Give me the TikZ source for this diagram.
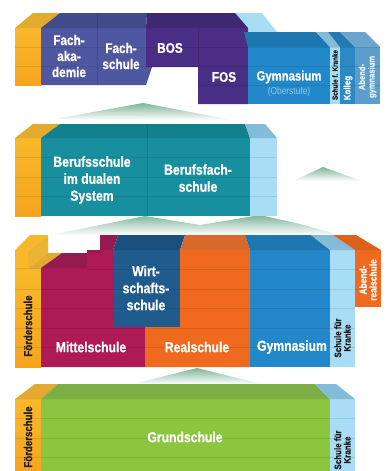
\documentclass[tikz,border=0pt]{standalone}
\usepackage{fontspec}
\newfontfamily\cf[FakeStretch=0.84,BoldFeatures={FakeBold=0.8}]{Liberation Sans}
\definecolor{yfront}{HTML}{F9B82A}
\definecolor{ybot}{HTML}{F6A51E}
\definecolor{ytop}{HTML}{E2AA2E}
\definecolor{yside}{HTML}{EDB22F}
\definecolor{slate}{HTML}{4E579F}
\definecolor{slatetop}{HTML}{414B8C}
\definecolor{purp}{HTML}{4A2D84}
\definecolor{purptop}{HTML}{3F2873}
\definecolor{gblue}{HTML}{2288C9}
\definecolor{gbluetop}{HTML}{1F77B1}
\definecolor{lblue}{HTML}{A9DDF6}
\definecolor{lbluetop}{HTML}{82BCD8}
\definecolor{kol}{HTML}{2A89C6}
\definecolor{koltop}{HTML}{2679B2}
\definecolor{abg}{HTML}{5C9DCC}
\definecolor{abgtop}{HTML}{6BA4CE}
\definecolor{teal}{HTML}{178F9F}
\definecolor{tealtop}{HTML}{13808D}
\definecolor{mag}{HTML}{AD1A56}
\definecolor{magtop}{HTML}{951A4F}
\definecolor{wblue}{HTML}{1F5B8C}
\definecolor{wbluetop}{HTML}{1B4F7E}
\definecolor{oran}{HTML}{EF6A1F}
\definecolor{orantop}{HTML}{D9692B}
\definecolor{grn}{HTML}{8CC63F}
\definecolor{grntop}{HTML}{7DAE46}
\definecolor{mnt}{HTML}{7FB49A}
\definecolor{ober}{HTML}{8DCBEE}
\definecolor{dtext}{HTML}{1E1E1E}
\begin{document}
\begin{tikzpicture}[x=1pt,y=-1pt,
  hl/.style={black,opacity=0.09,line width=0.6pt},
  vl/.style={black,opacity=0.12,line width=0.6pt},
  lbl/.style={text=white,font=\cf\bfseries\fontsize{14.5}{17}\selectfont,align=center,inner sep=0pt},
  lblA/.style={text=white,font=\cf\bfseries\fontsize{14}{16}\selectfont,align=center,inner sep=0pt},
  vlbl/.style={rotate=90,font=\cf\bfseries\fontsize{11.5}{12}\selectfont,align=center,inner sep=0pt},
  mtn/.style={top color=mnt,bottom color=white}
]
\useasboundingbox (0,0) rectangle (388,471);
\fill[white] (0,0) rectangle (388,471);

% ---------- mountains ----------
\shade[mtn] (55,119) -- (143,103) -- (232,120) -- cycle;
\shade[mtn] (293,181) -- (323,167) -- (362,181) -- cycle;
\shade[mtn] (50,235) -- (145,216) -- (200,225) -- (260,215) -- (300,224) -- (340,235) -- cycle;
\shade[mtn] (133,384) -- (197,368) -- (262,384) -- cycle;

% ================= ROW 1 =================
\shade[top color=yfront,bottom color=ybot] (15,28) rectangle (41,85);
\fill[ytop] (15,28) -- (33,13) -- (60,13) -- (41,28) -- cycle;
\fill[slate] (41,28) -- (146,28) -- (146,67) -- (152,67) -- (146,85) -- (41,85) -- cycle;
\fill[slatetop] (41,28) -- (60,13) -- (147,13) -- (146,28) -- cycle;
\draw[vl] (97,13) -- (97,85);
\fill[lblue] (235,13) -- (262,13) -- (277,32) -- (244,32) -- cycle;
\fill[purp] (146,28) -- (248,28) -- (248,104) -- (198,104) -- (198,67) -- (152,67) -- (146,67) -- cycle;
\fill[purptop] (146,28) -- (147,13) -- (235,13) -- (248,28) -- cycle;
\draw[vl] (198,28) -- (198,67);
\fill[gbluetop] (244,32) -- (316,32) -- (330,47) -- (248,47) -- cycle;
\fill[gblue] (248,47) rectangle (330,104);
\fill[lbluetop] (316,32) -- (328,32) -- (340,47) -- (330,47) -- cycle;
\fill[lblue] (330,47) rectangle (340,104);
\fill[koltop] (328,32) -- (340,32) -- (355,47) -- (340,47) -- cycle;
\fill[kol] (340,47) rectangle (355,104);
\fill[abgtop] (340,32) -- (365,32) -- (380,47) -- (355,47) -- cycle;
\fill[abg] (355,47) rectangle (380,104);
\draw[hl] (15,47) -- (248,47);
\draw[hl] (15,66) -- (380,66);
\draw[hl] (198,85) -- (380,85);
\draw[hl] (248,47) -- (380,47);

\node[lblA] (fachak) at (69,56) {Fach-\\aka-\\demie};
\node[lblA] (fachs) at (121,56) {Fach-\\schule};
\node[lblA] (bos) at (170,48) {BOS};
\node[lblA] (fos) at (224,77) {FOS};
\node[lblA,font=\cf\bfseries\fontsize{13.5}{16}\selectfont] (gym1) at (289,77) {Gymnasium};
\node[inner sep=0pt,text=ober,font=\cf\fontsize{10}{12}\selectfont] (ober) at (289,92) {(Oberstufe)};
\node[vlbl,text=dtext,font=\cf\bfseries\fontsize{7.5}{8}\selectfont] (skr1) at (335,75) {Schule f. Kranke};
\node[vlbl,text=white,font=\cf\bfseries\fontsize{9.5}{10}\selectfont] (kol1) at (348,88) {Kolleg};
\node[vlbl,text=white!85!abg,font=\cf\bfseries\fontsize{9}{9.5}\selectfont] (agym) at (367.5,77) {Abend-\\gymnasium};

% ================= ROW 2 =================
\shade[top color=yfront,bottom color=ybot] (15,138) rectangle (41,216);
\fill[ytop] (15,138) -- (33,124) -- (60,124) -- (41,138) -- cycle;
\fill[teal] (41,138) rectangle (250,216);
\fill[tealtop] (41,138) -- (60,124) -- (245,124) -- (250,138) -- cycle;
\draw[vl] (147,124) -- (147,216);
\fill[lblue] (250,138) rectangle (277,216);
\fill[lbluetop] (250,138) -- (245,124) -- (265,124) -- (277,138) -- cycle;
\foreach \yy in {157.5,177,196.5} \draw[hl] (15,\yy) -- (277,\yy);

\node[lbl] (bs) at (92,180) {Berufsschule\\im dualen\\System};
\node[lbl] (bfs) at (198,178) {Berufsfach-\\schule};

% ================= ROW 3 =================
\shade[top color=yfront,bottom color=ybot] (15,268) rectangle (41,367);
\fill[yfront] (15,250) rectangle (28,268.2);
\fill[yfront!92!ytop] (15,250) -- (30,235) -- (48,235) -- (28,250) -- cycle;
\fill[yside] (28,250) -- (48,235) -- (48,253) -- (28,268) -- cycle;
\fill[ytop] (28,268) -- (48,253) -- (62,253) -- (41,268) -- cycle;
\fill[mag] (41,268) -- (87,268) -- (87,250) -- (113,250) -- (113,327) -- (145,327) -- (145,367) -- (41,367) -- cycle;
\fill[magtop] (41,268) -- (62,253) -- (100,253) -- (100,235) -- (118,235) -- (113,250) -- (87,250) -- (87,268) -- cycle;
\fill[wblue] (113,250) rectangle (180,327);
\fill[wbluetop] (113,250) -- (118,235) -- (185,235) -- (180,250) -- cycle;
\fill[oran] (145,327) -- (145,367) -- (250,367) -- (250,250) -- (180,250) -- (180,327) -- cycle;
\fill[orantop] (180,250) -- (185,235) -- (245,235) -- (250,250) -- cycle;
\fill[gblue] (250,250) rectangle (330,367);
\fill[gbluetop] (250,250) -- (245,235) -- (311,235) -- (330,250) -- cycle;
\fill[lblue] (330,250) rectangle (355,367);
\fill[lbluetop] (330,250) -- (311,235) -- (333,235) -- (355,250) -- cycle;
\fill[oran] (355,250) rectangle (381,307);
\fill[oran!92!black] (355,250) -- (333,235) -- (356,235) -- (381,250) -- cycle;
\draw[hl] (15,268.5) -- (41,268.5);
\draw[hl] (87,269.5) -- (381,269.5);
\draw[hl] (15,289) -- (381,289);
\draw[hl] (15,308.5) -- (355,308.5);
\draw[hl] (15,328) -- (355,328);
\draw[hl] (15,347.5) -- (355,347.5);

\node[vlbl,text=dtext] (fs3) at (28,326) {Förderschule};
\node[lbl] (ms) at (91,347) {Mittelschule};
\node[lbl] (ws) at (146,288) {Wirt-\\schafts-\\schule};
\node[lbl] (rs) at (197,347) {Realschule};
\node[lbl] (gym3) at (292,347) {Gymnasium};
\node[vlbl,text=dtext,font=\cf\bfseries\fontsize{9.5}{9.5}\selectfont] (sfk3) at (342.5,338) {Schule für\\Kranke};
\node[vlbl,text=white,font=\cf\bfseries\fontsize{10}{10}\selectfont] (ars) at (368,280) {Abend-\\realschule};

% ================= ROW 4 =================
\shade[top color=yfront,bottom color=ybot] (15,399) rectangle (41,471);
\fill[ytop] (15,399) -- (35,384) -- (58,384) -- (41,399) -- cycle;
\fill[grn] (41,399) rectangle (330,471);
\fill[grntop] (41,399) -- (58,384) -- (315,384) -- (330,399) -- cycle;
\fill[lblue] (330,399) rectangle (355,471);
\fill[lbluetop] (330,399) -- (315,384) -- (336,384) -- (355,399) -- cycle;
\foreach \yy in {418.5,438,457.5} \draw[hl] (15,\yy) -- (355,\yy);

\node[lbl] (gs) at (185,437) {Grundschule};
\node[vlbl,text=dtext] (fs4) at (28,437) {Förderschule};
\node[vlbl,text=dtext,font=\cf\bfseries\fontsize{9.5}{9.5}\selectfont] (sfk4) at (342.5,450) {Schule für\\Kranke};
\end{tikzpicture}
\end{document}
